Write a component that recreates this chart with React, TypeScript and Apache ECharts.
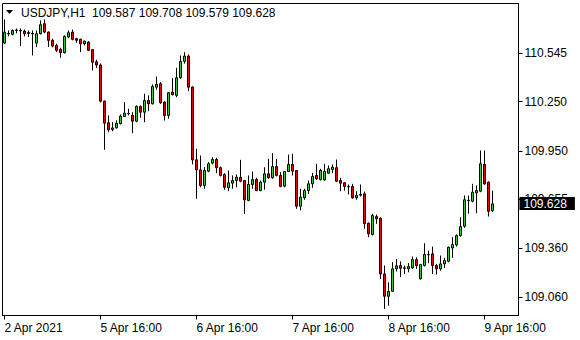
import React, { useEffect, useRef } from "react";
import * as echarts from "echarts";

const symbolLabel = "USDJPY,H1";

const opens = [
  110.606, 110.665, 110.659, 110.683, 110.683, 110.679, 110.671, 110.665, 110.606, 110.663,
  110.724, 110.673, 110.623, 110.592, 110.568, 110.548, 110.643, 110.673, 110.633, 110.629,
  110.602, 110.612, 110.566, 110.492, 110.473, 110.253, 110.122, 110.081, 110.091, 110.116,
  110.160, 110.176, 110.166, 110.131, 110.221, 110.186, 110.257, 110.237, 110.338, 110.359,
  110.247, 110.166, 110.308, 110.288, 110.395, 110.495, 110.527, 110.339, 109.896, 109.835,
  109.740, 109.827, 109.876, 109.898, 109.848, 109.807, 109.726, 109.754, 109.770, 109.790,
  109.770, 109.649, 109.746, 109.776, 109.709, 109.760, 109.811, 109.787, 109.855, 109.801,
  109.736, 109.825, 109.868, 109.831, 109.614, 109.665, 109.709, 109.750, 109.801, 109.776,
  109.774, 109.815, 109.837, 109.848, 109.770, 109.756, 109.734, 109.734, 109.665, 109.685,
  109.689, 109.510, 109.442, 109.551, 109.541, 109.202, 109.066, 109.096, 109.233, 109.253,
  109.239, 109.233, 109.239, 109.289, 109.172, 109.253, 109.320, 109.324, 109.253, 109.233,
  109.263, 109.279, 109.360, 109.379, 109.435, 109.492, 109.647, 109.644, 109.695, 109.705,
  109.868, 109.760, 109.587,
];

const closes = [
  110.673, 110.662, 110.683, 110.686, 110.680, 110.663, 110.665, 110.662, 110.663, 110.718,
  110.673, 110.623, 110.588, 110.562, 110.548, 110.647, 110.669, 110.629, 110.623, 110.602,
  110.618, 110.562, 110.490, 110.473, 110.253, 110.119, 110.079, 110.090, 110.119, 110.162,
  110.180, 110.178, 110.131, 110.221, 110.186, 110.257, 110.237, 110.342, 110.355, 110.243,
  110.166, 110.304, 110.292, 110.395, 110.495, 110.527, 110.338, 109.896, 109.835, 109.740,
  109.831, 109.872, 109.898, 109.848, 109.801, 109.729, 109.756, 109.770, 109.790, 109.766,
  109.653, 109.746, 109.776, 109.709, 109.760, 109.811, 109.787, 109.855, 109.801, 109.734,
  109.825, 109.868, 109.827, 109.614, 109.669, 109.709, 109.750, 109.795, 109.781, 109.831,
  109.825, 109.842, 109.851, 109.766, 109.754, 109.734, 109.732, 109.665, 109.679, 109.681,
  109.507, 109.446, 109.557, 109.537, 109.202, 109.066, 109.095, 109.233, 109.251, 109.236,
  109.236, 109.247, 109.289, 109.253, 109.259, 109.320, 109.318, 109.253, 109.233, 109.263,
  109.283, 109.364, 109.381, 109.435, 109.490, 109.653, 109.650, 109.699, 109.709, 109.872,
  109.750, 109.583, 109.628,
];

const highs = [
  110.750, 110.683, 110.689, 110.695, 110.695, 110.688, 110.683, 110.683, 110.683, 110.744,
  110.750, 110.677, 110.633, 110.602, 110.578, 110.653, 110.683, 110.688, 110.639, 110.633,
  110.622, 110.618, 110.568, 110.505, 110.482, 110.257, 110.166, 110.125, 110.136, 110.172,
  110.247, 110.207, 110.186, 110.227, 110.227, 110.298, 110.288, 110.355, 110.403, 110.369,
  110.253, 110.308, 110.393, 110.456, 110.531, 110.551, 110.537, 110.342, 109.963, 109.922,
  109.851, 109.882, 109.912, 109.908, 109.856, 109.815, 109.831, 109.801, 109.807, 109.896,
  109.774, 109.801, 109.825, 109.787, 109.770, 109.851, 109.902, 109.936, 109.902, 109.821,
  109.827, 109.928, 109.933, 109.831, 109.720, 109.720, 109.770, 109.817, 109.872, 109.841,
  109.872, 109.862, 109.868, 109.898, 109.787, 109.760, 109.746, 109.750, 109.705, 109.746,
  109.703, 109.515, 109.568, 109.563, 109.545, 109.253, 109.151, 109.273, 109.293, 109.279,
  109.253, 109.268, 109.308, 109.303, 109.263, 109.389, 109.344, 109.368, 109.263, 109.314,
  109.300, 109.368, 109.425, 109.442, 109.547, 109.679, 109.679, 109.750, 109.740, 109.953,
  109.953, 109.764, 109.708,
];

const lows = [
  110.600, 110.647, 110.653, 110.665, 110.588, 110.647, 110.643, 110.531, 110.582, 110.659,
  110.665, 110.582, 110.580, 110.551, 110.517, 110.543, 110.635, 110.623, 110.608, 110.551,
  110.592, 110.557, 110.440, 110.455, 110.245, 109.957, 110.064, 110.070, 110.085, 110.111,
  110.156, 110.166, 110.058, 110.125, 110.152, 110.125, 110.192, 110.233, 110.322, 110.237,
  110.135, 110.146, 110.288, 110.277, 110.389, 110.481, 110.314, 109.868, 109.659, 109.729,
  109.720, 109.821, 109.868, 109.815, 109.795, 109.714, 109.705, 109.720, 109.729, 109.760,
  109.567, 109.644, 109.720, 109.705, 109.705, 109.714, 109.781, 109.781, 109.795, 109.729,
  109.729, 109.821, 109.801, 109.598, 109.588, 109.653, 109.689, 109.726, 109.774, 109.770,
  109.770, 109.811, 109.815, 109.760, 109.705, 109.709, 109.685, 109.659, 109.653, 109.673,
  109.476, 109.425, 109.436, 109.507, 109.172, 108.989, 109.009, 109.096, 109.216, 109.182,
  109.202, 109.212, 109.233, 109.233, 109.168, 109.247, 109.267, 109.202, 109.198, 109.222,
  109.239, 109.273, 109.300, 109.368, 109.429, 109.482, 109.568, 109.638, 109.571, 109.699,
  109.744, 109.551, 109.579,
];

const yTicks = [109.06, 109.36, 109.655, 109.95, 110.25, 110.545];
const yMin = 108.949;
const yMax = 110.847;

const xTickIndex = [0, 24, 48, 72, 96, 120];
const xTickLabels = ["2 Apr 2021", "5 Apr 16:00", "6 Apr 16:00", "7 Apr 16:00", "8 Apr 16:00", "9 Apr 16:00"];

const totalSlots = 129;

function buildCategories(): string[] {
  const out: string[] = [];
  for (let i = 0; i < totalSlots; i++) {
    if (i < 8) {
      out.push(`2 Apr ${16 + i}:00`);
    } else {
      const h = i - 8;
      const day = 5 + Math.floor(h / 24);
      out.push(`${day} Apr ${h % 24}:00`);
    }
  }
  return out;
}

const FONT = "'Liberation Sans', Arial, sans-serif";

export default function App() {
  const ref = useRef<HTMLDivElement>(null);

  useEffect(() => {
    if (!ref.current) return;
    const chart = echarts.init(ref.current, undefined, { renderer: "svg" });
    const categories = buildCategories();
    const candleData = opens.map((o, i) => [o, closes[i], lows[i], highs[i]]);
    const last = opens.length - 1;
    const fmt = (v: number) => v.toFixed(3);

    chart.setOption({
      animation: false,
      backgroundColor: "#ffffff",
      grid: {
        left: 2.5,
        right: 61.5,
        top: 3.5,
        bottom: 24.5,
        show: true,
        borderColor: "#000000",
        borderWidth: 1,
        backgroundColor: "transparent",
      },
      xAxis: {
        type: "category",
        data: categories,
        boundaryGap: true,
        axisLine: { show: true, lineStyle: { color: "#000000", width: 1 } },
        axisTick: {
          show: true,
          alignWithLabel: true,
          length: 4,
          interval: (idx: number) => xTickIndex.includes(idx),
          lineStyle: { color: "#000000" },
        },
        axisLabel: {
          show: true,
          interval: (idx: number) => xTickIndex.includes(idx),
          formatter: (_v: string, idx: number) => {
            const k = xTickIndex.indexOf(idx);
            return k >= 0 ? xTickLabels[k] : "";
          },
          align: "left",
          margin: 6,
          color: "#000000",
          fontFamily: FONT,
          fontSize: 12,
          showMinLabel: true,
          showMaxLabel: true,
        },
        splitLine: { show: false },
      },
      yAxis: {
        type: "value",
        position: "right",
        min: yMin,
        max: yMax,
        scale: true,
        axisLine: { show: true, lineStyle: { color: "#000000", width: 1 } },
        axisTick: {
          show: true,
          length: 4,
          customValues: yTicks,
          lineStyle: { color: "#000000" },
        },
        axisLabel: {
          show: true,
          customValues: yTicks,
          formatter: (v: number) => fmt(v),
          margin: 6,
          color: "#000000",
          fontFamily: FONT,
          fontSize: 12,
        },
        splitLine: { show: false },
      },
      graphic: [
        {
          type: "polygon",
          shape: { points: [[6, 10], [13, 10], [9.5, 14]] },
          style: { fill: "#000000" },
          z: 100,
        },
        {
          type: "text",
          x: 21,
          y: 12.5,
          style: {
            text: symbolLabel,
            fill: "#000000",
            font: `12px ${FONT}`,
            verticalAlign: "middle",
          },
          z: 100,
        },
        {
          type: "text",
          x: 92,
          y: 12.5,
          style: {
            text: [opens[last], highs[last], lows[last], closes[last]].map(fmt).join(" "),
            fill: "#000000",
            font: `12px ${FONT}`,
            verticalAlign: "middle",
          },
          z: 100,
        },
      ],
      series: [
        {
          type: "candlestick",
          data: candleData,
          barWidth: 2,
          clip: false,
          itemStyle: {
            color: "#32CD32",
            color0: "#EE0000",
            borderColor: "#000000",
            borderColor0: "#000000",
            borderColorDoji: "#000000",
            borderWidth: 1,
          },
          markLine: {
            silent: true,
            symbol: ["none", "none"],
            lineStyle: { color: "rgba(0,0,0,0)", width: 1, type: "solid" },
            data: [{ yAxis: closes[last] }],
            z: 20,
            label: {
              show: true,
              position: "end",
              distance: 1,
              formatter: () => fmt(closes[last]),
              backgroundColor: "#000000",
              color: "#ffffff",
              fontFamily: FONT,
              fontSize: 12,
              lineHeight: 13,
              padding: [0, 8, 0, 4],
              opacity: 1,
            },
          },
        },
      ],
    });

    return () => chart.dispose();
  }, []);

  return (
    <div
      ref={ref}
      style={{ position: "fixed", left: 0, top: 0, width: 580, height: 340 }}
    />
  );
}
